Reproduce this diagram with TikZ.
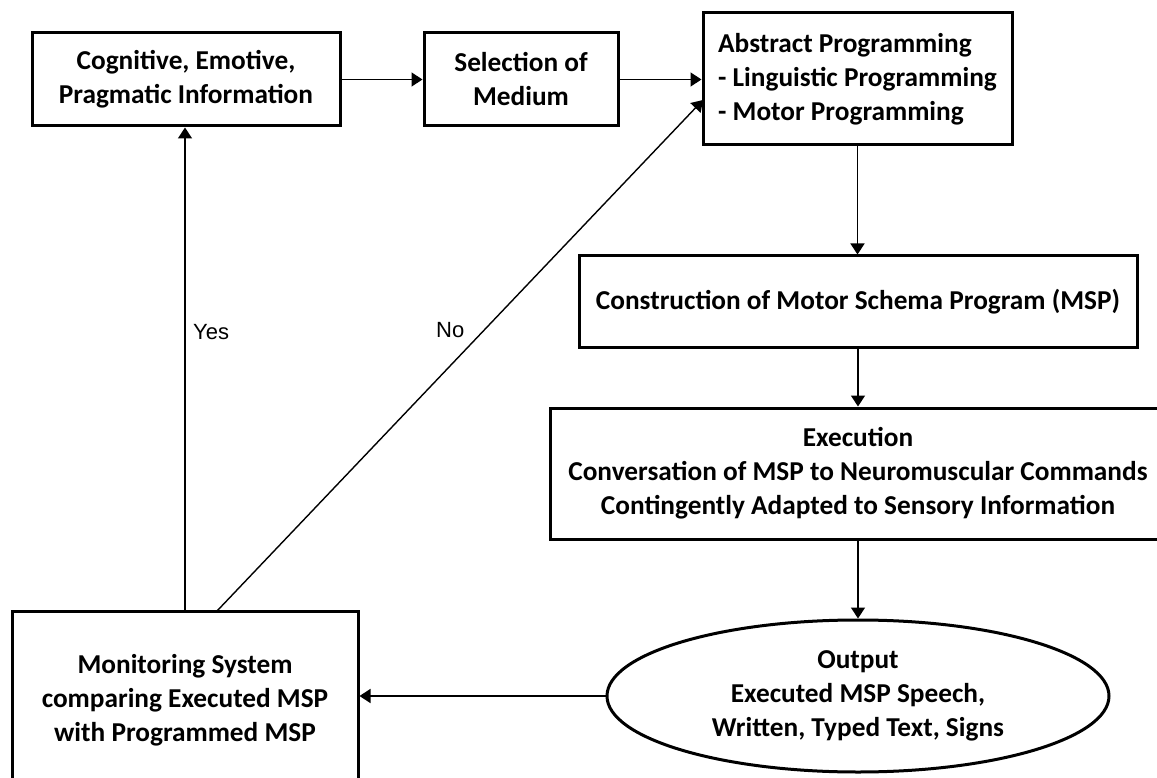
\documentclass[tikz,border=0pt]{standalone}
\usepackage{fontspec}
\setmainfont{Carlito}
\newfontfamily\arialfont{Liberation Sans}
\usetikzlibrary{arrows.meta,shapes.geometric}
\begin{document}
\begin{tikzpicture}[x=1pt,y=-1pt,
  box/.style={draw, line width=3pt, inner sep=0pt, align=center,
    font=\fontsize{27.3}{34}\selectfont\bfseries},
  arr/.style={line width=1.4pt, -{Triangle[length=11pt,width=14pt]}},
  lbl/.style={font=\arialfont\fontsize{22}{26}\selectfont, inner sep=0pt}]
\clip (0,0) rectangle (1157,778);
\fill[white] (0,0) rectangle (1157,778);
\node[box, minimum width=308pt, minimum height=93pt] (cog) at (186,79.5)
  {Cognitive, Emotive,\\Pragmatic Information};
\node[box, minimum width=194pt, minimum height=93pt] (sel) at (521,79.5)
  {Selection of\\Medium};
\node[box, minimum width=309pt, minimum height=132pt, align=left] (abs) at (857.5,79)
  {Abstract Programming\\- Linguistic Programming\\- Motor Programming};
\node[box, minimum width=558pt, minimum height=91pt] (con) at (858,301.5)
  {Construction of Motor Schema Program (MSP)};
\node[box, minimum width=616pt, minimum height=131pt] (exe) at (858,473.5)
  {Execution\\Conversation of MSP to Neuromuscular Commands\\Contingently Adapted to Sensory Information};
\node[box, ellipse, minimum width=502pt, minimum height=152pt] (out) at (858,696)
  {Output\\Executed MSP Speech,\\Written, Typed Text, Signs};
\node[box, minimum width=346pt, minimum height=178pt] (mon) at (185,700)
  {Monitoring System\\comparing Executed MSP\\with Programmed MSP};
\coordinate (nostart) at (217,611);
\coordinate (noend) at (703,100);
\draw[arr] (cog.east) -- (sel.west);
\draw[arr] (sel.east) -- (sel.east -| abs.west);
\draw[arr] (abs.south) -- (abs.south |- con.north);
\draw[arr] (con.south) -- (con.south |- exe.north);
\draw[arr] (exe.south) -- (out.north);
\draw[arr] (out.west) -- (out.west -| mon.east);
\draw[arr] (mon.north) -- (mon.north |- cog.south);
\draw[arr] (nostart) -- (noend);
\node[lbl, anchor=west] (yes) at (193,332) {Yes};
\node[lbl, anchor=west] (no) at (436,330) {No};
\end{tikzpicture}
\end{document}
